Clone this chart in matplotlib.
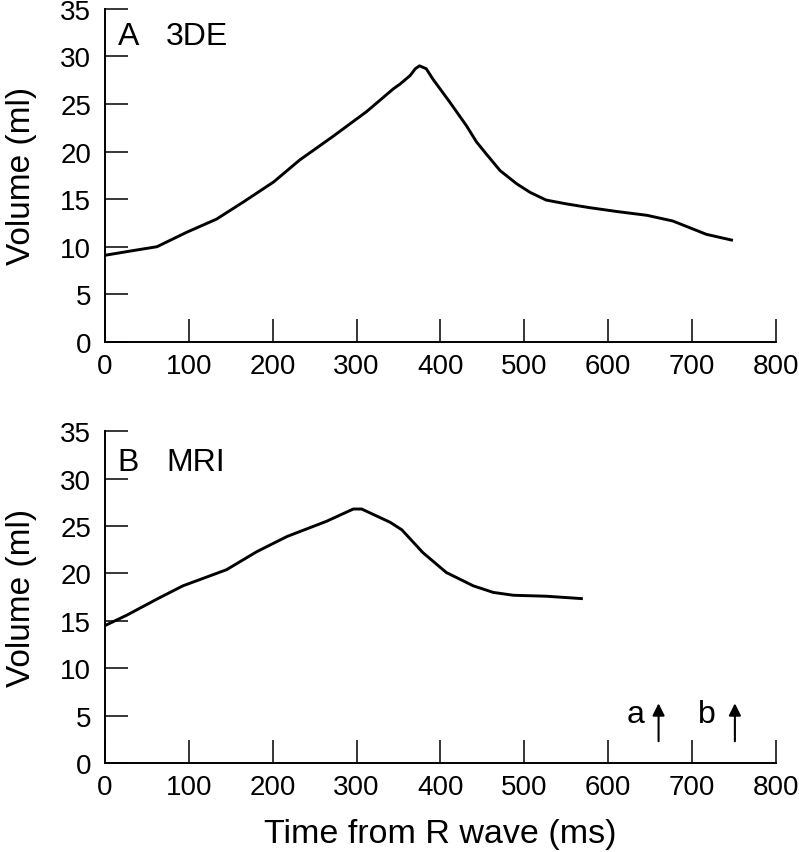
import matplotlib
matplotlib.use("Agg")
import matplotlib.pyplot as plt

plt.rcParams['font.family'] = ['Liberation Sans', 'DejaVu Sans']

# panel A: 3DE volume curve (time in ms, volume in ml)
t_3de = [0, 34, 62, 97, 133, 165, 201, 232, 272, 312, 344, 352, 364, 370,
         375, 383, 391, 411, 431, 443, 455, 471, 491, 507, 526, 550, 578,
         610, 646, 677, 697, 717, 747]
v_3de = [9.1, 9.6, 10.0, 11.5, 12.9, 14.7, 16.8, 19.1, 21.6, 24.2, 26.6, 27.1,
         28.0, 28.7, 29.0, 28.7, 27.6, 25.2, 22.7, 21.0, 19.7, 18.0, 16.6,
         15.7, 14.9, 14.5, 14.1, 13.7, 13.3, 12.7, 12.0, 11.3, 10.7]

# panel B: MRI volume curve
t_mri = [0, 26, 62, 93, 145, 181, 217, 264, 296, 306, 340, 354, 379, 407,
         439, 463, 487, 526, 568]
v_mri = [14.5, 15.6, 17.3, 18.7, 20.4, 22.3, 23.9, 25.5, 26.8, 26.8, 25.4,
         24.6, 22.2, 20.1, 18.7, 18.0, 17.7, 17.6, 17.35]

# markers a and b on the lower panel
arrow_labels = ['a', 'b']
arrow_t = [660, 751]
label_t = [632, 717]

x_ticks = [0, 100, 200, 300, 400, 500, 600, 700, 800]
y_ticks = [0, 5, 10, 15, 20, 25, 30, 35]

fig = plt.figure(figsize=(7.99, 8.53), dpi=100)
ax1 = fig.add_axes([0.1314, 0.598, 0.8398, 0.3906])
ax2 = fig.add_axes([0.1314, 0.1043, 0.8398, 0.3889])

for ax in (ax1, ax2):
    ax.set_xlim(0, 800)
    ax.set_ylim(0, 35)
    ax.set_xticks(x_ticks)
    ax.set_yticks(y_ticks)
    ax.spines['top'].set_visible(False)
    ax.spines['right'].set_visible(False)
    ax.spines['left'].set_linewidth(1.4)
    ax.spines['bottom'].set_linewidth(1.4)
    ax.tick_params(direction='in', length=16.5, width=1.1, labelsize=20)
    ax.tick_params(axis='x', pad=8)
    ax.tick_params(axis='y', pad=10)
    ax.set_ylabel('Volume (ml)', fontsize=24)
    ax.yaxis.set_label_coords(-0.102, 0.5)

ax1.plot(t_3de, v_3de, color='black', lw=2.1, solid_joinstyle='round')
ax1.text(15, 32.1, 'A', fontsize=23, va='center', ha='left')
ax1.text(73, 32.1, '3DE', fontsize=23, va='center', ha='left')

ax2.plot(t_mri, v_mri, color='black', lw=2.1, solid_joinstyle='round')
ax2.text(15, 31.8, 'B', fontsize=23, va='center', ha='left')
ax2.text(73, 31.8, 'MRI', fontsize=23, va='center', ha='left')
ax2.set_xlabel('Time from R wave (ms)', fontsize=24.5)
ax2.xaxis.set_label_coords(0.5, -0.166)

for lab, at, lt in zip(arrow_labels, arrow_t, label_t):
    ax2.annotate('', xy=(at, 6.3), xytext=(at, 2.3),
                 arrowprops=dict(arrowstyle='-|>', color='black', lw=1.5,
                                 mutation_scale=18, shrinkA=0, shrinkB=0))
    ax2.text(lt, 5.2, lab, fontsize=23, va='center', ha='center')

fig.savefig('out.png', dpi=100)
